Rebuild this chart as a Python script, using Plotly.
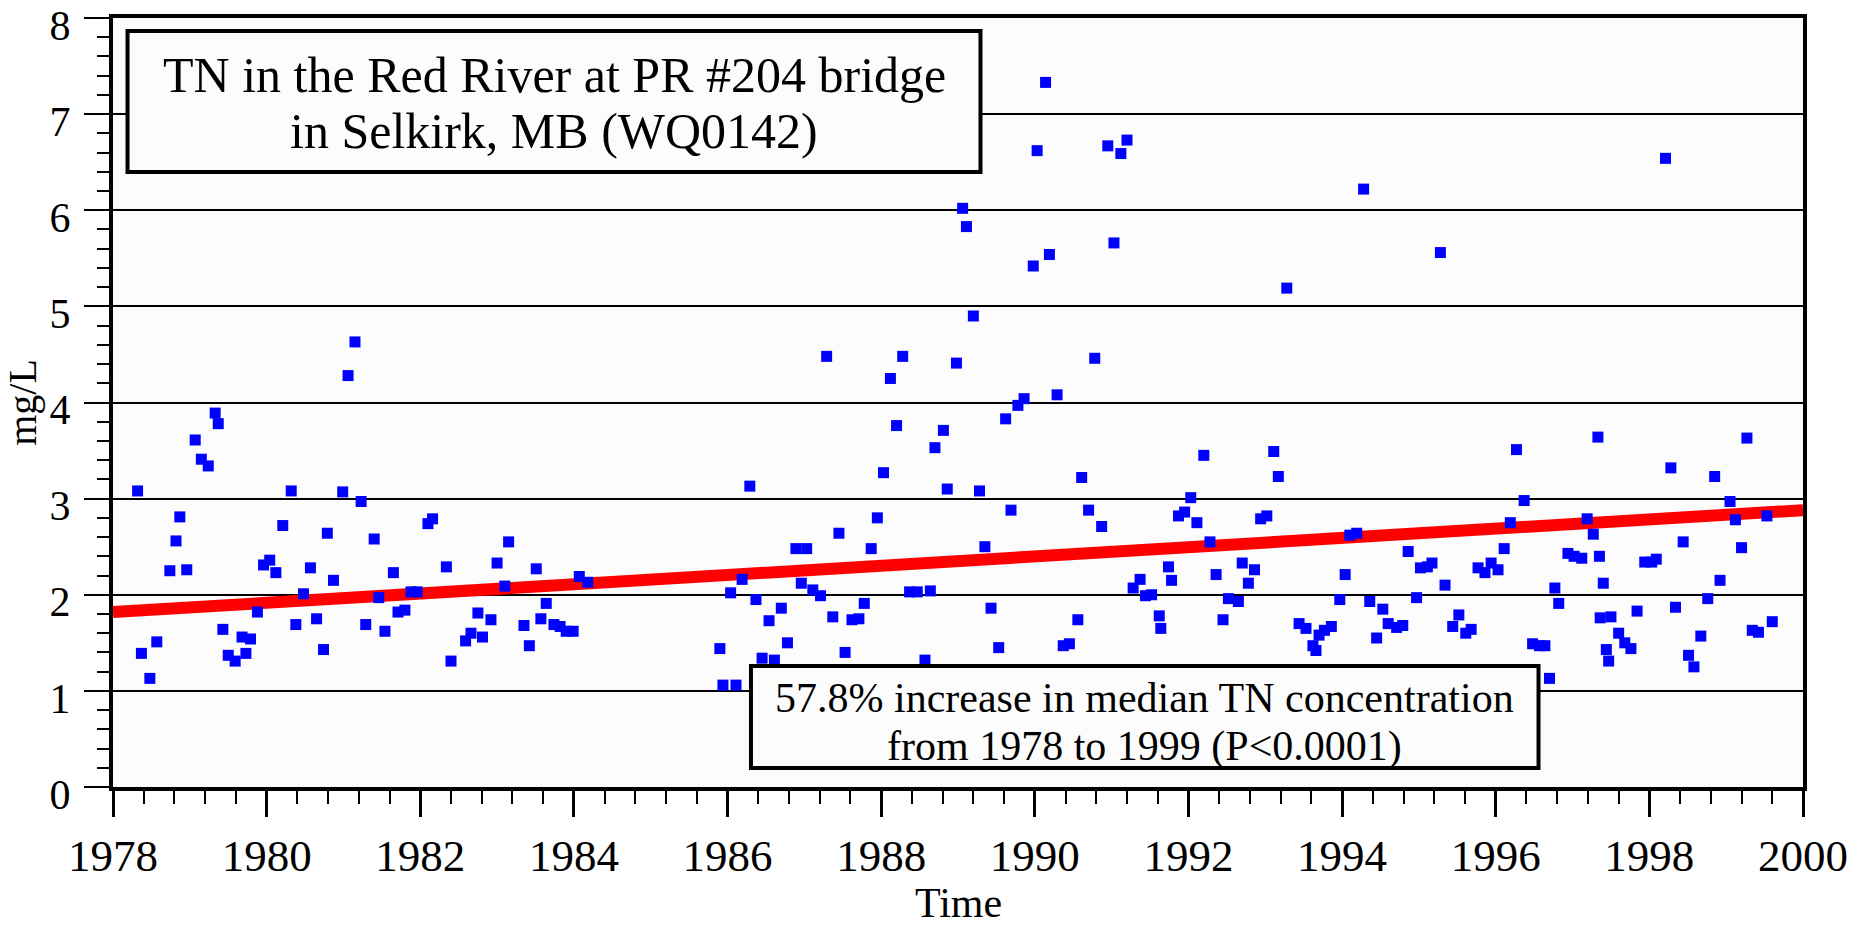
import plotly.graph_objects as go

# sample dates (decimal years) and TN concentrations (mg/L)
years = [
    1978.32, 1978.37, 1978.48, 1978.57, 1978.74, 1978.82, 1978.87, 1978.96,
    1979.07, 1979.15, 1979.24, 1979.33, 1979.37, 1979.43, 1979.50, 1979.59,
    1979.68, 1979.73, 1979.79, 1979.88, 1979.96, 1980.04, 1980.12, 1980.21,
    1980.32, 1980.38, 1980.48, 1980.57, 1980.65, 1980.74, 1980.79, 1980.87,
    1980.99, 1981.06, 1981.15, 1981.23, 1981.29, 1981.40, 1981.46, 1981.54,
    1981.65, 1981.71, 1981.80, 1981.88, 1981.96,
    1982.10, 1982.16, 1982.34, 1982.40, 1982.59, 1982.66, 1982.75, 1982.81,
    1982.92, 1983.00, 1983.10, 1983.15, 1983.35, 1983.42, 1983.51, 1983.57,
    1983.64, 1983.74, 1983.82, 1983.90, 1983.99, 1984.07, 1984.18,
    1985.90, 1985.94, 1986.04, 1986.11, 1986.19, 1986.29, 1986.37, 1986.45,
    1986.54, 1986.61, 1986.70, 1986.78, 1986.89, 1986.96, 1987.03, 1987.11,
    1987.21, 1987.29, 1987.37, 1987.45, 1987.53, 1987.62, 1987.71, 1987.78,
    1987.87, 1987.95, 1988.03, 1988.12, 1988.20, 1988.28, 1988.37, 1988.47,
    1988.57, 1988.64, 1988.70, 1988.81, 1988.86, 1988.98, 1989.06, 1989.11,
    1989.20, 1989.28, 1989.35, 1989.43,
    1989.53, 1989.62, 1989.69, 1989.78, 1989.86, 1989.98, 1990.03, 1990.14,
    1990.19, 1990.29, 1990.37, 1990.45, 1990.56, 1990.61, 1990.70, 1990.78,
    1990.87, 1990.95, 1991.03, 1991.12, 1991.20, 1991.28, 1991.37, 1991.44,
    1991.52, 1991.62, 1991.64, 1991.74, 1991.78, 1991.87, 1991.95, 1992.03,
    1992.11, 1992.20, 1992.28, 1992.36, 1992.45, 1992.52, 1992.65, 1992.70,
    1992.78, 1992.86, 1992.94, 1993.02, 1993.11, 1993.17,
    1993.28, 1993.44, 1993.53, 1993.62, 1993.66, 1993.70, 1993.77, 1993.86,
    1993.97, 1994.04, 1994.10, 1994.19, 1994.28, 1994.36, 1994.45, 1994.53,
    1994.60, 1994.71, 1994.79, 1994.86, 1994.97, 1995.02, 1995.11, 1995.17,
    1995.28, 1995.34, 1995.44, 1995.52, 1995.61, 1995.68, 1995.77, 1995.86,
    1995.94, 1996.03, 1996.11, 1996.19, 1996.27, 1996.37, 1996.48, 1996.57,
    1996.64, 1996.70, 1996.77, 1996.82,
    1996.94, 1997.02, 1997.12, 1997.19, 1997.27, 1997.33, 1997.35, 1997.36,
    1997.40, 1997.44, 1997.47, 1997.50, 1997.60, 1997.68, 1997.76, 1997.84,
    1997.94, 1998.03, 1998.09, 1998.21, 1998.28, 1998.34, 1998.44, 1998.51,
    1998.58, 1998.67, 1998.76, 1998.85, 1998.92, 1999.05, 1999.12, 1999.20,
    1999.27, 1999.34, 1999.42, 1999.53, 1999.60,
]
tn = [
    3.08, 1.39, 1.13, 1.51, 2.25, 2.56, 2.81, 2.26,
    3.61, 3.41, 3.34, 3.89, 3.78, 1.64, 1.37, 1.31,
    1.56, 1.39, 1.54, 1.82, 2.31, 2.36, 2.23, 2.72,
    3.08, 1.69, 2.01, 2.28, 1.75, 1.43, 2.64, 2.15,
    3.07, 4.28, 4.63, 2.97, 1.69, 2.58, 1.97, 1.62,
    2.23, 1.82, 1.84, 2.03, 2.03,
    2.74, 2.79, 2.29, 1.31, 1.52, 1.60, 1.81, 1.56,
    1.74, 2.33, 2.09, 2.55, 1.68, 1.47, 2.27, 1.75,
    1.91, 1.69, 1.67, 1.62, 1.62, 2.19, 2.13,
    1.44, 1.06, 2.02, 1.06, 2.16, 3.13, 1.95, 1.34,
    1.73, 1.32, 1.86, 1.50, 2.48, 2.12, 2.48, 2.05,
    1.99, 4.48, 1.77, 2.64, 1.40, 1.74, 1.75, 1.91,
    2.48, 2.80, 3.27, 4.25, 3.76, 4.48, 2.03, 2.03,
    1.32, 2.04, 3.53, 3.71, 3.10, 4.41, 6.02, 5.83,
    4.90, 3.08, 2.50, 1.86,
    1.45, 3.83, 2.88, 3.97, 4.04, 5.42, 6.62, 7.33,
    5.54, 4.08, 1.47, 1.49, 1.74, 3.22, 2.88, 4.46,
    2.71, 6.67, 5.66, 6.59, 6.73, 2.07, 2.16, 1.99,
    2.00, 1.78, 1.65, 2.29, 2.15, 2.82, 2.86, 3.01,
    2.75, 3.45, 2.55, 2.21, 1.74, 1.96, 1.93, 2.33,
    2.12, 2.26, 2.79, 2.82, 3.49, 3.23,
    5.19, 1.70, 1.65, 1.47, 1.42, 1.58, 1.63, 1.67,
    1.95, 2.21, 2.62, 2.64, 6.22, 1.93, 1.55, 1.85,
    1.70, 1.66, 1.68, 2.45, 1.97, 2.28, 2.29, 2.33,
    5.56, 2.10, 1.67, 1.79, 1.60, 1.64, 2.28, 2.23,
    2.33, 2.26, 2.48, 2.75, 3.51, 2.98, 1.49, 1.47,
    1.47, 1.13, 2.07, 1.91,
    2.43, 2.40, 2.38, 2.79, 2.63, 3.64, 2.40, 1.76,
    2.12, 1.43, 1.31, 1.77, 1.60, 1.50, 1.44, 1.83,
    2.34, 2.34, 2.37, 6.54, 3.32, 1.87, 2.55, 1.37,
    1.25, 1.57, 1.96, 3.23, 2.15, 2.97, 2.78, 2.49,
    3.63, 1.63, 1.61, 2.82, 1.72,
]

# trend line end points
trend_years = [1978, 2000]
trend_tn = [1.82, 2.88]

x_ticks = list(range(1978, 2001, 2))
y_ticks = list(range(0, 9))

title_lines = ["TN in the Red River at PR #204 bridge", "in Selkirk, MB (WQ0142)"]
note_lines = ["57.8% increase in median TN concentration", "from 1978 to 1999 (P<0.0001)"]

FONT = "Liberation Serif, Times New Roman, serif"

fig = go.Figure()

fig.add_trace(
    go.Scatter(
        x=trend_years,
        y=trend_tn,
        mode="lines",
        line=dict(color="#ff0000", width=12),
        showlegend=False,
        hoverinfo="skip",
    )
)

fig.add_trace(
    go.Scatter(
        x=years,
        y=tn,
        mode="markers",
        marker=dict(symbol="square", size=11, color="#0000ff", line_width=0),
        showlegend=False,
    )
)

# text boxes
fig.add_shape(
    type="rect", xref="paper", yref="paper",
    x0=0.0086, x1=0.5133, y0=0.7997, y1=0.9831,
    line=dict(color="black", width=4), fillcolor="#fcfcfc", layer="above",
)
fig.add_shape(
    type="rect", xref="paper", yref="paper",
    x0=0.3775, x1=0.8435, y0=0.0247, y1=0.1573,
    line=dict(color="black", width=4), fillcolor="#fcfcfc", layer="above",
)

for line, ypos in zip(title_lines, [0.9259, 0.853]):
    fig.add_annotation(
        xref="paper", yref="paper", x=0.261, y=ypos, text=line,
        showarrow=False, font=dict(family=FONT, size=50, color="black"),
        xanchor="center", yanchor="middle",
    )
for line, ypos in zip(note_lines, [0.1157, 0.0533]):
    fig.add_annotation(
        xref="paper", yref="paper", x=0.6105, y=ypos, text=line,
        showarrow=False, font=dict(family=FONT, size=42, color="black"),
        xanchor="center", yanchor="middle",
    )

# x axis title
fig.add_annotation(
    xref="paper", yref="paper", x=0.5, y=-0.184, text="Time",
    showarrow=False, font=dict(family=FONT, size=42, color="black"),
    xanchor="center", yanchor="bottom",
)

fig.update_layout(
    width=1864,
    height=930,
    margin=dict(l=113, r=61, t=18, b=143, pad=0, autoexpand=False),
    paper_bgcolor="white",
    plot_bgcolor="#fcfcfc",
    font=dict(family=FONT, size=40, color="black"),
    xaxis=dict(
        range=[1978, 2000],
        tickvals=x_ticks,
        ticktext=[str(t) for t in x_ticks],
        tickfont=dict(size=45),
        ticks="outside",
        ticklen=26,
        tickwidth=2.5,
        tickcolor="black",
        ticklabelstandoff=0,
        ticklabeloverflow="allow",
        automargin=False,
        minor=dict(dtick=0.4, tick0=1978, ticks="outside", ticklen=13,
                   tickwidth=1.5, tickcolor="black"),
        showgrid=False,
        zeroline=False,
        showline=True,
        linecolor="black",
        linewidth=4,
        mirror=True,
    ),
    yaxis=dict(
        range=[0, 8],
        tickvals=y_ticks,
        tickfont=dict(size=42),
        ticks="outside",
        ticklen=25,
        tickwidth=2,
        tickcolor="black",
        ticklabelstandoff=5,
        ticklabelshift=7,
        ticklabeloverflow="allow",
        automargin=False,
        minor=dict(dtick=0.2, tick0=0, ticks="outside", ticklen=12,
                   tickwidth=1.5, tickcolor="black", showgrid=False),
        showgrid=True,
        gridcolor="black",
        gridwidth=1.5,
        zeroline=False,
        showline=True,
        linecolor="black",
        linewidth=4,
        mirror=True,
        title=dict(text="mg/L", font=dict(size=40), standoff=4),
    ),
)

# drop the browser's default page margin so the figure sits at the window corner
fig.write_html(
    "out.html",
    config={"displayModeBar": False},
    post_script="document.body.style.margin='0';",
)
